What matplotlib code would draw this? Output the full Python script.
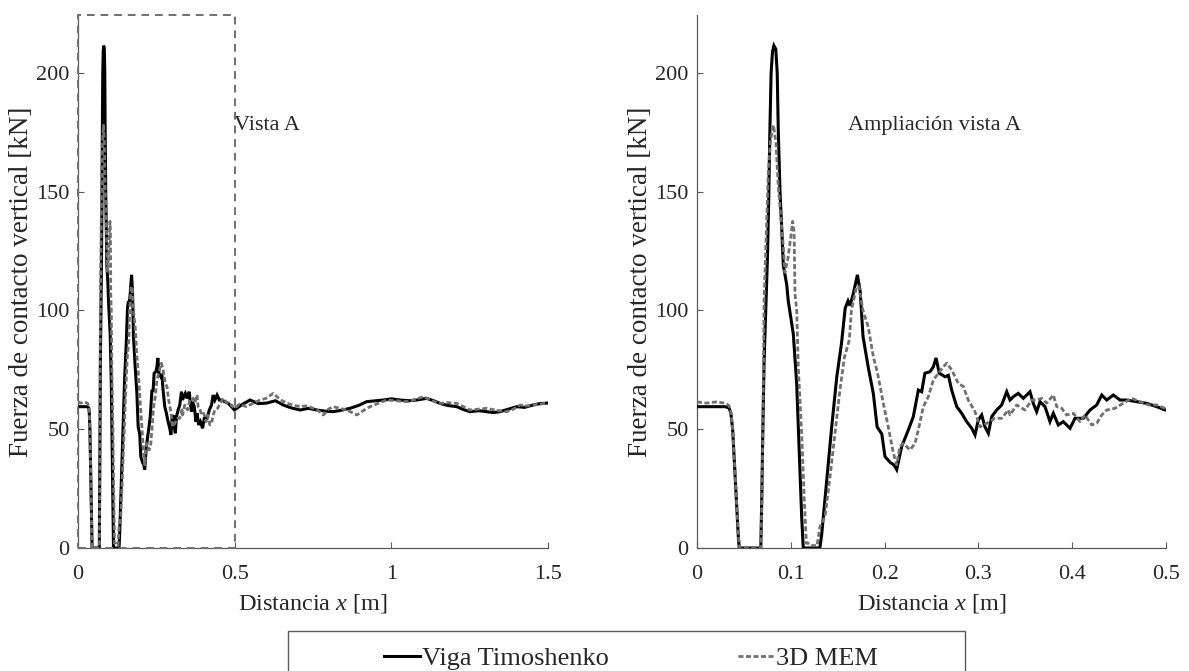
import matplotlib
matplotlib.use("Agg")
import matplotlib.pyplot as plt
from matplotlib.patches import Rectangle

plt.rcParams['font.family'] = ['Liberation Serif', 'DejaVu Serif']
plt.rcParams['mathtext.fontset'] = 'custom'
plt.rcParams['mathtext.rm'] = 'Liberation Serif'
plt.rcParams['mathtext.it'] = 'Liberation Serif:italic'

# ---------------- data ----------------
x_timo = [0.000, 0.010, 0.020, 0.030, 0.034, 0.036, 0.038, 0.040, 0.042, 0.044, 0.045,
          0.055, 0.068, 0.069, 0.070, 0.0715, 0.075, 0.0765, 0.0775, 0.079, 0.0805, 0.082,
          0.084, 0.0855, 0.0867, 0.0885, 0.0903, 0.092, 0.0956, 0.0973, 0.100, 0.1027,
          0.1063, 0.109, 0.1116, 0.1133, 0.125, 0.131, 0.133, 0.138, 0.1436, 0.149, 0.154,
          0.158, 0.161, 0.163, 0.1666, 0.171, 0.174, 0.177, 0.1826, 0.188, 0.192, 0.197,
          0.2004, 0.206, 0.210, 0.2129, 0.2182, 0.2253, 0.2306, 0.236, 0.2395, 0.243,
          0.2484, 0.252, 0.2548, 0.2583, 0.2644, 0.268, 0.2715, 0.2769, 0.2822, 0.2875,
          0.2929, 0.2964, 0.2999, 0.3035, 0.307, 0.3106, 0.3142, 0.3195, 0.3248, 0.3302,
          0.3337, 0.3372, 0.3425, 0.3479, 0.355, 0.3585, 0.3621, 0.3657, 0.371, 0.3763,
          0.3799, 0.3852, 0.3905, 0.3977, 0.403, 0.4119, 0.419, 0.4261, 0.4315, 0.4368,
          0.4439, 0.451, 0.4581, 0.4688, 0.4794, 0.4901, 0.499,
          0.525, 0.549, 0.575, 0.602, 0.630, 0.655, 0.680, 0.709, 0.735, 0.762, 0.790,
          0.815, 0.840, 0.868, 0.895, 0.921, 0.950, 0.974, 1.000, 1.028, 1.055, 1.081,
          1.113, 1.135, 1.155, 1.180, 1.209, 1.230, 1.251, 1.280, 1.304, 1.325, 1.347,
          1.375, 1.400, 1.425, 1.453, 1.475, 1.496]
y_timo = [59.5, 59.5, 59.5, 59.5, 59.0, 57.0, 50.0, 35.0, 20.0, 5.0, 0.0,
          0.0, 0.0, 20.0, 45.0, 78.0, 121.0, 147.0, 172.0, 200.0, 209.0, 211.5,
          210.0, 200.0, 175.0, 150.0, 135.0, 119.0, 111.0, 104.0, 97.0, 90.0,
          69.0, 41.0, 13.0, 0.0, 0.0, 0.0, 6.0, 27.0, 51.0, 72.0, 86.0,
          101.0, 104.0, 102.0, 107.0, 115.0, 108.0, 89.0, 76.0, 65.0, 51.0, 48.0,
          38.5, 36.0, 35.0, 33.0, 42.7, 49.7, 55.3, 66.5, 65.8, 73.6,
          74.2, 76.3, 80.0, 73.6, 72.1, 72.7, 66.5, 59.5, 56.7, 53.2,
          50.4, 47.6, 53.9, 56.0, 51.0, 48.3, 55.3, 58.1, 60.2, 65.8,
          62.3, 63.7, 65.1, 63.0, 65.8, 60.9, 57.4, 61.6, 59.5, 53.2,
          56.7, 51.8, 53.2, 50.4, 54.6, 54.6, 58.1, 60.2, 64.4, 62.3,
          64.4, 62.3, 62.3, 61.6, 60.9, 59.5, 58.1,
          60.5, 62.3, 60.8, 61.0, 62.0, 60.2, 59.0, 58.1, 58.8, 58.1, 57.6,
          57.4, 58.0, 58.8, 60.0, 61.6, 62.0, 62.3, 62.8, 62.3, 62.0, 62.3,
          63.0, 62.0, 60.9, 60.0, 59.5, 58.3, 57.4, 57.8, 57.4, 57.0, 57.4,
          58.5, 59.5, 59.2, 60.2, 60.8, 61.0]

x_mem = [0.000, 0.010, 0.020, 0.030, 0.034, 0.036, 0.038, 0.040, 0.042, 0.044, 0.0455,
         0.068, 0.0695, 0.0705, 0.0715, 0.076, 0.0785, 0.0815, 0.0842, 0.0867, 0.0893,
         0.092, 0.0937, 0.097, 0.100, 0.102, 0.1035, 0.1045, 0.1063, 0.108, 0.1116,
         0.1144, 0.1166, 0.120, 0.123, 0.128, 0.1311, 0.1365, 0.1418, 0.1471, 0.1524,
         0.157, 0.1624, 0.1646, 0.170, 0.1727, 0.177, 0.1826, 0.188, 0.1925, 0.1986,
         0.2039, 0.2093, 0.2129, 0.2164, 0.220, 0.2271, 0.2324, 0.2359, 0.2413, 0.2466,
         0.252, 0.2573, 0.262, 0.2662, 0.2715, 0.2786, 0.2839, 0.2892, 0.2964, 0.3017,
         0.3089, 0.3177, 0.3248, 0.3319, 0.3337, 0.3408, 0.3497, 0.3568, 0.3621, 0.3675,
         0.3728, 0.3799, 0.3835, 0.3888, 0.3941, 0.4012, 0.4083, 0.4136, 0.4208, 0.4261,
         0.4315, 0.4368, 0.4456, 0.4545, 0.4634, 0.4723, 0.4812, 0.4901, 0.499,
         0.515, 0.538, 0.560, 0.581, 0.600, 0.623, 0.645, 0.666, 0.690, 0.709, 0.730,
         0.751, 0.770, 0.783, 0.800, 0.815, 0.835, 0.858, 0.875, 0.890, 0.910, 0.932,
         0.960, 0.985, 1.015, 1.049, 1.075, 1.102, 1.130, 1.155, 1.180, 1.209, 1.230,
         1.251, 1.280, 1.304, 1.335, 1.368, 1.390, 1.411, 1.430, 1.453, 1.475, 1.496]
y_mem = [61.5, 61.0, 61.5, 61.0, 60.0, 57.5, 50.0, 36.0, 21.0, 6.0, 0.0,
         0.0, 25.0, 60.0, 104.0, 158.0, 172.0, 178.0, 170.5, 152.0, 139.5,
         127.0, 116.0, 122.0, 131.0, 137.5, 133.0, 107.0, 100.0, 76.0, 48.0,
         20.0, 2.0, 2.0, 1.0, 1.0, 9.0, 13.2, 30.0, 48.3, 66.5,
         80.0, 87.6, 100.0, 110.0, 110.0, 100.0, 93.0, 80.5, 73.6, 61.0,
         51.0, 40.0, 35.0, 42.7, 44.0, 41.3, 44.0, 49.7, 59.5, 63.7,
         70.7, 73.6, 76.0, 77.8, 75.0, 69.3, 68.0, 62.3, 57.4, 51.0,
         52.5, 54.6, 54.6, 58.1, 56.0, 60.2, 58.1, 62.3, 62.3, 63.0,
         61.0, 64.4, 59.5, 58.8, 56.0, 56.7, 53.2, 56.0, 51.8, 52.5,
         56.0, 58.1, 58.8, 61.0, 63.0, 61.6, 60.2, 60.2, 58.8,
         60.5, 59.5, 61.0, 62.3, 63.0, 65.1, 62.5, 61.0, 60.0, 59.6, 59.8,
         58.8, 57.5, 56.0, 58.5, 59.5, 58.8, 58.1, 57.0, 56.0, 57.8, 59.5,
         61.0, 62.3, 62.0, 61.6, 62.5, 63.7, 62.0, 60.9, 61.2, 60.9, 59.5,
         58.1, 58.5, 58.8, 58.0, 57.4, 58.5, 60.2, 59.8, 60.2, 60.6, 61.0]

label_timo = "Viga Timoshenko"
label_mem = "3D MEM"
yticks = [0, 50, 100, 150, 200]
xticks_left = [0, 0.5, 1, 1.5]
xticklabels_left = ["0", "0.5", "1", "1.5"]
xticks_right = [0, 0.1, 0.2, 0.3, 0.4, 0.5]
xticklabels_right = ["0", "0.1", "0.2", "0.3", "0.4", "0.5"]

# ---------------- style ----------------
W, H = 1189, 671
fig = plt.figure(figsize=(W / 100, H / 100), dpi=100)
TXT = '#262626'
SPN = '#5a5a5a'
GRAY = '#707070'
FS_TICK = 16
FS_XLAB = 17.5
FS_YLAB = 19.5
FS_ANN = 16
FS_LEG = 19
YMAX = 224.4

def style_axes(ax, xlim, xticks, xticklabels):
    ax.set_xlim(*xlim)
    ax.set_ylim(0, YMAX)
    ax.set_xticks(xticks)
    ax.set_xticklabels(xticklabels)
    ax.set_yticks(yticks)
    for s in ['top', 'right']:
        ax.spines[s].set_visible(False)
    for s in ['left', 'bottom']:
        ax.spines[s].set_color(SPN)
        ax.spines[s].set_linewidth(0.9)
    ax.tick_params(direction='in', length=4, width=0.8, color=SPN,
                   labelsize=FS_TICK, labelcolor=TXT)
    ax.tick_params(axis='x', pad=12)
    ax.tick_params(axis='y', pad=6)
    ax.set_xlabel('Distancia $\\mathit{x}$ [m]', fontsize=FS_XLAB, color=TXT, labelpad=6)
    ax.set_ylabel('Fuerza de contacto vertical [kN]', fontsize=FS_YLAB, color=TXT,
                  labelpad=2)

def draw(ax):
    ax.plot(x_timo, y_timo, color='black', lw=2.2, solid_joinstyle='miter',
            label=label_timo, zorder=3)
    ax.plot(x_mem, y_mem, color=GRAY, lw=2.0, dashes=(1.8, 0.9),
            label=label_mem, zorder=4)

ax1 = fig.add_axes([78 / W, 1 - 548 / H, 470 / W, 533 / H])
draw(ax1)
style_axes(ax1, (0, 1.5), xticks_left, xticklabels_left)
ax1.add_patch(Rectangle((0, 0), 0.5, YMAX, fill=False, edgecolor=GRAY, lw=1.4,
                        linestyle=(0, (4, 3)), clip_on=False, zorder=5))
ax1.text(0.497, 178, 'Vista A', fontsize=FS_ANN, color=TXT, ha='left', va='center')

ax2 = fig.add_axes([697 / W, 1 - 548 / H, 469 / W, 533 / H])
draw(ax2)
style_axes(ax2, (0, 0.5), xticks_right, xticklabels_right)
ax2.text(0.161, 178, 'Ampliación vista A', fontsize=FS_ANN, color=TXT,
         ha='left', va='center')

# legend box
fig.patches.append(Rectangle((288 / W, -0.05), (965 - 288) / W, 0.05 + 1 - 631 / H,
                             transform=fig.transFigure, fill=False,
                             edgecolor=SPN, lw=1.0))
h, l = ax2.get_legend_handles_labels()
fig.legend(h, l, loc='center left', bbox_to_anchor=(360 / W, 1 - 658 / H), ncol=2,
           frameon=False, fontsize=FS_LEG, handlelength=1.36, handletextpad=0.08,
           columnspacing=4.9, labelcolor=TXT)

fig.savefig('out.png', dpi=100)
